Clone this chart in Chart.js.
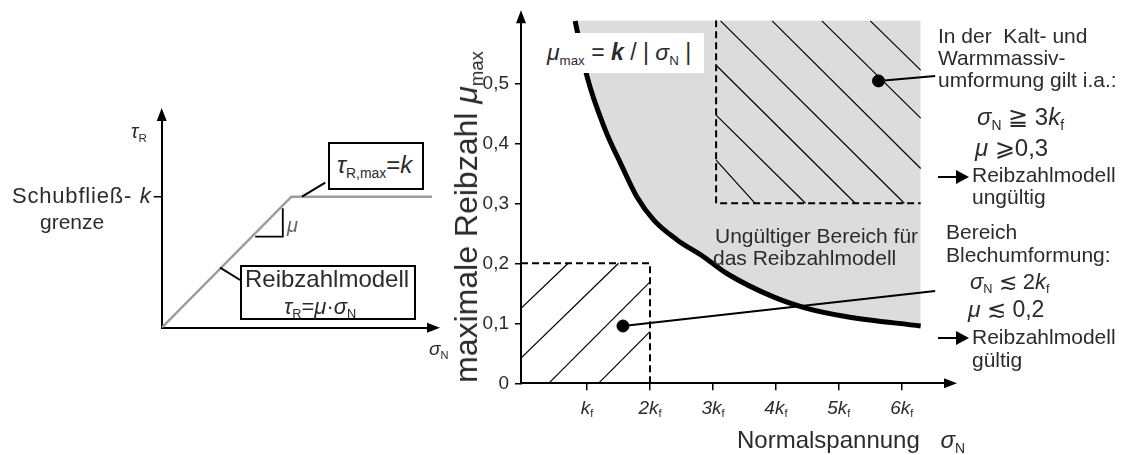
<!DOCTYPE html>
<html>
<head>
<meta charset="utf-8">
<script src="https://cdn.jsdelivr.net/npm/chart.js@4"></script>
<style>
body { margin: 0; background: #fff; width: 1126px; height: 455px; overflow: hidden; position: relative;
       font-family: "Liberation Sans", Arial, sans-serif; color: #2b2b2b; }
canvas { position: absolute; top: 0; }
#left { left: 0; }
#right { left: 430px; }
.t { position: absolute; white-space: nowrap; line-height: 1; }
.i { font-style: italic; }
.s { font-size: 58%; position: relative; top: 0.35em; font-style: normal; }
.box { position: absolute; border: 2px solid #000; background: #fff; box-sizing: border-box; }
.arr { position: absolute; height: 2px; background: #000; }
.arr::after { content: ''; position: absolute; right: -11px; top: -6px; border-left: 13px solid #000;
              border-top: 7px solid transparent; border-bottom: 7px solid transparent; }
</style>
</head>
<body>
<canvas id="left" width="460" height="455"></canvas>
<canvas id="right" width="540" height="455"></canvas>

<!-- left sketch labels -->
<div class="t" style="left:131px;top:121px;font-size:20px"><span class="i">τ</span><span class="s">R</span></div>
<div class="t" style="left:429px;top:339px;font-size:19px"><span class="i">σ</span><span class="s">N</span></div>
<div class="t" style="left:12px;top:185px;font-size:22px;letter-spacing:0.8px">Schubfließ-</div>
<div class="t" style="left:40px;top:211px;font-size:21px">grenze</div>
<div class="t i" style="left:287px;top:215px;font-size:20px;color:#666">μ</div>
<div class="box" style="left:328px;top:142px;width:96px;height:48px"></div>
<div class="t" style="left:337px;top:153px;font-size:24px"><span class="i">τ</span><span class="s">R,max</span>=<span class="i">k</span></div>
<div class="box" style="left:240px;top:265px;width:176px;height:55px"></div>
<div class="t" style="left:245px;top:267px;font-size:24px">Reibzahlmodell</div>
<div class="t" style="left:284px;top:296px;font-size:22px"><span class="i">τ</span><span class="s">R</span>=<span class="i">μ</span>·<span class="i">σ</span><span class="s">N</span></div>

<!-- right chart labels -->
<div class="box" style="left:540px;top:33px;width:164px;height:40px;border:none"></div>
<div class="t" style="left:547px;top:41px;font-size:23px"><span class="i">μ</span><span class="s">max</span> = <b class="i">k</b> / | <span class="i">σ</span><span class="s">N</span> |</div>
<div class="t" style="left:715px;top:225px;font-size:21px">Ungültiger Bereich für</div>
<div class="t" style="left:713px;top:247px;font-size:21px">das Reibzahlmodell</div>
<div class="t" style="left:737px;top:428px;font-size:24px">Normalspannung <span class="i" style="margin-left:14px">σ</span><span class="s">N</span></div>
<div class="t" style="left:466px;top:217px;font-size:32px;transform:translate(-50%,-50%) rotate(-90deg)">maximale Reibzahl <span class="i">μ</span><span class="s">max</span></div>

<div class="t" style="left:938px;top:25px;font-size:21px">In der&nbsp; Kalt- und</div>
<div class="t" style="left:938px;top:47px;font-size:21px">Warmmassiv-</div>
<div class="t" style="left:938px;top:69px;font-size:21px">umformung gilt i.a.:</div>
<div class="t" style="left:977px;top:105px;font-size:24px"><span class="i">σ</span><span class="s">N</span> ≧ 3<span class="i">k</span><span class="s">f</span></div>
<div class="t" style="left:975px;top:136px;font-size:24px"><span class="i">μ</span> ⩾0,3</div>
<div class="arr" style="left:938px;top:176px;width:20px"></div>
<div class="t" style="left:972px;top:164px;font-size:21px">Reibzahlmodell</div>
<div class="t" style="left:972px;top:186px;font-size:21px">ungültig</div>

<div class="t" style="left:946px;top:221px;font-size:21px">Bereich</div>
<div class="t" style="left:946px;top:244px;font-size:21px">Blechumformung:</div>
<div class="t" style="left:970px;top:271px;font-size:22px"><span class="i">σ</span><span class="s">N</span> ≲ 2<span class="i">k</span><span class="s">f</span></div>
<div class="t" style="left:968px;top:298px;font-size:23px"><span class="i">μ</span> ≲ 0,2</div>
<div class="arr" style="left:938px;top:337px;width:20px"></div>
<div class="t" style="left:972px;top:326px;font-size:21px">Reibzahlmodell</div>
<div class="t" style="left:972px;top:349px;font-size:21px">gültig</div>

<script>
// right chart: maximale Reibzahl over Normalspannung (in k_f)
const xTickValues = [1, 2, 3, 4, 5, 6];
const xTickLabels = ['k', '2k', '3k', '4k', '5k', '6k'];
const yTickValues = [0, 0.1, 0.2, 0.3, 0.4, 0.5];
const yTickLabels = ['0', '0,1', '0,2', '0,3', '0,4', '0,5'];

const curveX = [0.81, 1.0, 1.29, 1.53, 1.79, 2.06, 2.43, 2.85, 3.22, 3.96, 4.49, 5.13, 6.3];
const curveY = [0.604, 0.511, 0.422, 0.367, 0.311, 0.272, 0.239, 0.211, 0.183, 0.144, 0.125, 0.111, 0.0955];

const massivBox = [[3.05, 0.605], [3.05, 0.3], [6.3, 0.3]];
const blechBox = [[-0.05, 0.2], [2.0, 0.2], [2.0, 0]];

// hatch segments: x1, y1, x2, y2
const hatchMassiv = [
    [3.05, 0.372, 3.67, 0.30],
    [3.05, 0.447, 4.47, 0.30],
    [3.05, 0.53, 5.26, 0.30],
    [3.12, 0.604, 6.04, 0.30],
    [3.94, 0.604, 6.3, 0.358],
    [4.73, 0.604, 6.3, 0.442],
    [5.5, 0.604, 6.3, 0.522]
];
const hatchBlech = [
    [-0.05, 0.125, 0.70, 0.2],
    [-0.05, 0.042, 1.5, 0.2],
    [0.39, 0, 2.0, 0.169],
    [1.18, 0, 2.0, 0.086]
];

const massivDot = [5.63, 0.504];
const massivLeader = [6.53, 0.512];
const blechDot = [1.57, 0.0955];
const blechLeader = [6.53, 0.154];

// left sketch: tau_R over sigma_N
const modelX = [0, 4.8, 10];
const modelY = [0, 1, 1];
const slopeX = [3.46, 4.48, 4.48];
const slopeY = [0.695, 0.695, 0.911];
const kTick = [1];
const kLeader = [[5.19, 1.0], [6.05, 1.107]];
const modelLeader = [[2.16, 0.458], [2.9, 0.364]];

const FONT = '"Liberation Sans", Arial, sans-serif';
const pts = (xs, ys) => xs.map((x, i) => ({ x: x, y: ys[i] }));
const pairs = arr => arr.map(p => ({ x: p[0], y: p[1] }));

function line(data, extra) {
    return Object.assign({
        data: data, showLine: true, pointRadius: 0, borderColor: '#000',
        borderWidth: 1.3, fill: false
    }, extra || {});
}

const axisArrows = {
    id: 'axisArrows',
    afterDraw(chart) {
        const ctx = chart.ctx, a = chart.chartArea;
        ctx.save();
        ctx.fillStyle = '#000';
        ctx.beginPath();
        ctx.moveTo(a.left, a.top - 10);
        ctx.lineTo(a.left - 5, a.top + 3);
        ctx.lineTo(a.left + 5, a.top + 3);
        ctx.closePath();
        ctx.fill();
        ctx.beginPath();
        ctx.moveTo(a.right + 8, a.bottom);
        ctx.lineTo(a.right - 5, a.bottom - 5);
        ctx.lineTo(a.right - 5, a.bottom + 5);
        ctx.closePath();
        ctx.fill();
        ctx.restore();
    }
};

// x tick labels with subscript f
const kfLabels = {
    id: 'kfLabels',
    afterDraw(chart) {
        const ctx = chart.ctx, xs = chart.scales.x;
        const base = chart.chartArea.bottom + 31;
        ctx.save();
        ctx.fillStyle = '#2b2b2b';
        ctx.textBaseline = 'alphabetic';
        ctx.textAlign = 'left';
        xTickValues.forEach((v, i) => {
            ctx.font = 'italic 19px ' + FONT;
            const w1 = ctx.measureText(xTickLabels[i]).width;
            ctx.font = '11px ' + FONT;
            const w2 = ctx.measureText('f').width;
            const x0 = xs.getPixelForValue(v) - (w1 + w2) / 2;
            ctx.font = 'italic 19px ' + FONT;
            ctx.fillText(xTickLabels[i], x0, base);
            ctx.font = '11px ' + FONT;
            ctx.fillText('f', x0 + w1, base + 3);
        });
        ctx.restore();
    }
};

const rightDatasets = [
    line(pairs([massivDot, massivLeader]), { borderWidth: 2 }),
    line(pairs([blechDot, blechLeader]), { borderWidth: 2 }),
    { data: pairs([massivDot, blechDot]), pointRadius: 6, pointBackgroundColor: '#000', pointBorderColor: '#000', showLine: false },
    line(pts(curveX, curveY), {
        borderWidth: 5, fill: 'end', backgroundColor: '#dcdcdc',
        cubicInterpolationMode: 'monotone'
    }),
    line(pairs(massivBox), { borderWidth: 2, borderDash: [7, 4] }),
    line(pairs(blechBox), { borderWidth: 2, borderDash: [7, 4] })
];
hatchMassiv.concat(hatchBlech).forEach(h => {
    rightDatasets.push(line([{ x: h[0], y: h[1] }, { x: h[2], y: h[3] }], { borderWidth: 1.2 }));
});

new Chart(document.getElementById('right'), {
    type: 'scatter',
    data: { datasets: rightDatasets },
    options: {
        responsive: false,
        animation: false,
        events: [],
        layout: { padding: { left: 50, right: 21, top: 20.3, bottom: 21.7 } },
        plugins: {
            legend: { display: false },
            tooltip: { enabled: false },
            filler: { drawTime: 'beforeDatasetsDraw' }
        },
        scales: {
            x: {
                type: 'linear', min: -0.05, max: 6.75,
                afterBuildTicks: s => { s.ticks = xTickValues.map(v => ({ value: v })); },
                afterFit: s => { s.height = 50; },
                ticks: { display: false },
                grid: { drawOnChartArea: false, tickLength: 7, color: '#000', lineWidth: 1.5 },
                border: { color: '#000', width: 2 }
            },
            y: {
                type: 'linear', min: 0, max: 0.605,
                afterBuildTicks: s => { s.ticks = yTickValues.map(v => ({ value: v })); },
                afterFit: s => { s.width = 41; },
                ticks: {
                    color: '#2b2b2b', padding: 6,
                    font: { family: FONT, size: 19 },
                    callback: (v) => yTickLabels[yTickValues.indexOf(Math.round(v * 10) / 10)]
                },
                grid: { drawOnChartArea: false, tickLength: 6, color: '#000', lineWidth: 1.5 },
                border: { color: '#000', width: 2 }
            }
        }
    },
    plugins: [axisArrows, kfLabels]
});

new Chart(document.getElementById('left'), {
    type: 'scatter',
    data: {
        datasets: [
            line(pairs(kLeader), { borderWidth: 2 }),
            line(pairs(modelLeader), { borderWidth: 2 }),
            line(pts(slopeX, slopeY), { borderWidth: 1.8 }),
            line(pts(modelX, modelY), { borderWidth: 2.5, borderColor: '#9c9c9c' })
        ]
    },
    options: {
        responsive: false,
        animation: false,
        events: [],
        layout: { padding: { left: 121.7, right: 28, top: 118, bottom: 117.3 } },
        plugins: { legend: { display: false }, tooltip: { enabled: false } },
        scales: {
            x: {
                type: 'linear', min: 0, max: 10,
                afterFit: s => { s.height = 10; },
                ticks: { display: false },
                grid: { display: false },
                border: { color: '#000', width: 2 }
            },
            y: {
                type: 'linear', min: 0, max: 1.6,
                afterBuildTicks: s => { s.ticks = kTick.map(v => ({ value: v })); },
                afterFit: s => { s.width = 40; },
                ticks: {
                    color: '#2b2b2b', padding: 3,
                    font: { family: FONT, size: 22, style: 'italic' },
                    callback: () => 'k'
                },
                grid: { drawOnChartArea: false, tickLength: 8, color: '#000', lineWidth: 1.5 },
                border: { color: '#000', width: 2 }
            }
        }
    },
    plugins: [axisArrows]
});
</script>
</body>
</html>
